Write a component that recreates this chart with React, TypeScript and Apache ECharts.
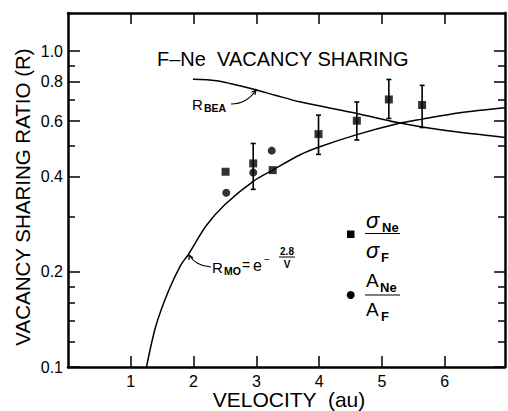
import React, { useEffect, useRef } from "react";
import * as echarts from "echarts";

// ---- data ----
const X_TICKS = [1, 2, 3, 4, 5, 6];
const Y_MAJOR = [0.1, 0.2, 0.4, 0.6, 0.8, 1.0];
const Y_MINOR = [0.12, 0.14, 0.16, 0.18, 0.3, 0.5, 0.7, 0.9];

// sigma_Ne / sigma_F (squares)
const sqV = [2.51, 2.95, 3.26, 3.99, 4.6, 5.11, 5.64];
const sqR = [0.415, 0.441, 0.42, 0.546, 0.602, 0.703, 0.675];
// A_Ne / A_F (circles)
const ciV = [2.52, 2.95, 3.245];
const ciR = [0.356, 0.413, 0.484];
// error bars
const errV = [2.95, 3.99, 4.6, 5.11, 5.64];
const errLo = [0.365, 0.471, 0.523, 0.612, 0.573];
const errHi = [0.51, 0.627, 0.69, 0.813, 0.779];
// R_BEA curve
const beaV = [1.99, 2.36, 2.6, 2.96, 3.3, 3.69, 4.6, 5.23, 5.64, 6.24, 6.96];
const beaR = [0.814, 0.806, 0.788, 0.757, 0.725, 0.691, 0.635, 0.595, 0.575, 0.553, 0.533];
// R_MO curve
const moV = [1.25, 1.4, 1.6, 1.8, 1.91, 2.2, 2.5, 2.95, 3.26, 3.69, 4.0, 4.6, 5.23, 5.64, 6.24, 6.96];
const moR = [0.1, 0.135, 0.174, 0.211, 0.226, 0.28, 0.327, 0.387, 0.42, 0.469, 0.497, 0.544, 0.588, 0.609, 0.638, 0.662];

const FONT = "'Liberation Sans', Arial, sans-serif";
const BLACK = "#000";

function txt(text: string, x: number, y: number, size: number, extra: any = {}) {
  return {
    type: "text",
    x,
    y,
    silent: true,
    style: {
      text,
      fontSize: size,
      fontFamily: FONT,
      fill: BLACK,
      align: "left",
      verticalAlign: "middle",
      ...extra,
    },
  };
}

function arrowHead(x: number, y: number, fromX: number, fromY: number, len = 5) {
  const ang = Math.atan2(y - fromY, x - fromX);
  const a1 = ang + Math.PI - 0.45;
  const a2 = ang + Math.PI + 0.45;
  return {
    type: "polyline",
    silent: true,
    shape: {
      points: [
        [x + len * Math.cos(a1), y + len * Math.sin(a1)],
        [x, y],
        [x + len * Math.cos(a2), y + len * Math.sin(a2)],
      ],
    },
    style: { stroke: BLACK, lineWidth: 1.2, fill: null },
  };
}

export default function App() {
  const ref = useRef<HTMLDivElement>(null);

  useEffect(() => {
    if (!ref.current) return;
    const chart = echarts.init(ref.current, undefined, { renderer: "svg" });

    const yMin = 0.1;
    const yMax = 1.32;
    const xMin = 0;
    const xMax = 6.96;

    const axisLine = { show: true, onZero: false, lineStyle: { color: BLACK, width: 2.5 } };
    const tickStyle = { color: BLACK, width: 1.5 };

    const xAxisBase = {
      type: "value",
      min: xMin,
      max: xMax,
      splitLine: { show: false },
      axisLine,
    };
    const yAxisBase = {
      type: "log",
      logBase: 10,
      min: yMin,
      max: yMax,
      splitLine: { show: false },
      minorTick: { show: false },
      minorSplitLine: { show: false },
    };

    const option: any = {
      animation: false,
      backgroundColor: "#fff",
      textStyle: { fontFamily: FONT, color: BLACK },
      grid: { left: 68, right: 3, top: 13, bottom: 44, containLabel: false },
      xAxis: [
        {
          ...xAxisBase,
          position: "bottom",
          axisTick: { show: true, inside: true, length: 11, customValues: X_TICKS, lineStyle: tickStyle },
          axisLabel: { show: true, customValues: X_TICKS, fontSize: 16, color: BLACK, margin: 6, fontFamily: FONT },
        },
        {
          ...xAxisBase,
          position: "top",
          axisTick: { show: true, inside: true, length: 11, customValues: X_TICKS, lineStyle: tickStyle },
          axisLabel: { show: false },
        },
      ],
      yAxis: [
        {
          ...yAxisBase,
          position: "left",
          axisLine,
          axisTick: { show: true, inside: true, length: 12, customValues: Y_MAJOR, lineStyle: tickStyle },
          axisLabel: {
            show: true,
            customValues: Y_MAJOR,
            fontSize: 16,
            color: BLACK,
            margin: 5,
            fontFamily: FONT,
            formatter: (v: number) => Number(v).toFixed(1),
          },
        },
        {
          ...yAxisBase,
          position: "left",
          axisLine: { show: false, onZero: false },
          axisTick: { show: true, inside: true, length: 7, customValues: Y_MINOR, lineStyle: tickStyle },
          axisLabel: { show: false },
        },
        {
          ...yAxisBase,
          position: "right",
          axisLine,
          axisTick: { show: true, inside: true, length: 11, customValues: Y_MAJOR, lineStyle: tickStyle },
          axisLabel: { show: false },
        },
        {
          ...yAxisBase,
          position: "right",
          axisLine: { show: false, onZero: false },
          axisTick: { show: true, inside: true, length: 7, customValues: Y_MINOR, lineStyle: tickStyle },
          axisLabel: { show: false },
        },
      ],
      series: [
        {
          name: "R_BEA",
          type: "line",
          data: beaV.map((v, i) => [v, beaR[i]]),
          smooth: 0.3,
          symbol: "none",
          lineStyle: { color: BLACK, width: 1.5 },
          silent: true,
        },
        {
          name: "R_MO",
          type: "line",
          data: moV.map((v, i) => [v, moR[i]]),
          smooth: 0.3,
          symbol: "none",
          lineStyle: { color: BLACK, width: 1.5 },
          silent: true,
        },
        {
          name: "error",
          type: "custom",
          data: errV.map((v, i) => [v, errLo[i], errHi[i]]),
          encode: { x: 0, y: [1, 2] },
          renderItem: (params: any, api: any) => {
            const x = api.value(0);
            const lo = api.coord([x, api.value(1)]);
            const hi = api.coord([x, api.value(2)]);
            const w = 2.5;
            const st = { stroke: BLACK, lineWidth: 1.6 };
            return {
              type: "group",
              children: [
                { type: "line", shape: { x1: lo[0], y1: lo[1], x2: hi[0], y2: hi[1] }, style: st },
                { type: "line", shape: { x1: lo[0] - w, y1: lo[1], x2: lo[0] + w, y2: lo[1] }, style: st },
                { type: "line", shape: { x1: hi[0] - w, y1: hi[1], x2: hi[0] + w, y2: hi[1] }, style: st },
              ],
            };
          },
          silent: true,
          z: 3,
        },
        {
          name: "σNe/σF",
          type: "scatter",
          data: sqV.map((v, i) => [v, sqR[i]]),
          symbol: "rect",
          symbolSize: 8,
          itemStyle: { color: BLACK },
          z: 4,
        },
        {
          name: "ANe/AF",
          type: "scatter",
          data: ciV.map((v, i) => [v, ciR[i]]),
          symbol: "circle",
          symbolSize: 8,
          itemStyle: { color: BLACK },
          z: 4,
        },
      ],
      graphic: [
        // title
        txt("F–Ne  VACANCY SHARING", 157, 58.5, 20),
        // axis names
        {
          type: "text",
          x: 22,
          y: 197,
          rotation: Math.PI / 2,
          silent: true,
          style: {
            text: "VACANCY SHARING RATIO (R)",
            fontSize: 20.5,
            fontFamily: FONT,
            fill: BLACK,
            align: "center",
            verticalAlign: "middle",
          },
        },
        txt("VELOCITY  (au)", 289, 399.5, 21, { align: "center" }),
        // R_BEA label + leader
        txt("R", 192, 104, 15),
        txt("BEA", 204, 108, 10.5, { fontWeight: "bold" }),
        {
          type: "bezierCurve",
          silent: true,
          shape: { x1: 231, y1: 104, cpx1: 247, cpy1: 104, x2: 256, y2: 90 },
          style: { stroke: BLACK, lineWidth: 1.2, fill: null },
        },
        arrowHead(256, 90, 249, 99),
        // R_MO label + leader
        txt("R", 212, 267, 15),
        txt("MO", 224, 271, 10.5, { fontWeight: "bold" }),
        txt("=", 242, 265, 14),
        txt("e", 253, 265, 16),
        txt("−", 264, 259, 10),
        txt("2.8", 287, 251, 10, { align: "center", fontWeight: "bold" }),
        {
          type: "line",
          silent: true,
          shape: { x1: 279, y1: 257, x2: 295, y2: 257 },
          style: { stroke: BLACK, lineWidth: 1 },
        },
        txt("V", 287, 264, 10, { align: "center", fontWeight: "bold" }),
        {
          type: "bezierCurve",
          silent: true,
          shape: { x1: 211, y1: 267, cpx1: 196, cpy1: 266, x2: 189, y2: 255 },
          style: { stroke: BLACK, lineWidth: 1.2, fill: null },
        },
        arrowHead(189, 255, 193, 263),
        // legend: squares
        {
          type: "rect",
          silent: true,
          shape: { x: 347, y: 230.5, width: 7.5, height: 7.5 },
          style: { fill: BLACK },
        },
        txt("σ", 366, 220, 22, { fontStyle: "italic" }),
        txt("Ne", 382, 227, 13, { fontWeight: "bold" }),
        {
          type: "line",
          silent: true,
          shape: { x1: 365, y1: 233.5, x2: 400, y2: 233.5 },
          style: { stroke: BLACK, lineWidth: 1.2 },
        },
        txt("σ", 366, 250, 22, { fontStyle: "italic" }),
        txt("F", 381, 257, 13, { fontWeight: "bold" }),
        // legend: circles
        {
          type: "circle",
          silent: true,
          shape: { cx: 350.7, cy: 295, r: 4 },
          style: { fill: BLACK },
        },
        txt("A", 366, 280, 19),
        txt("Ne", 380, 287, 13, { fontWeight: "bold" }),
        {
          type: "line",
          silent: true,
          shape: { x1: 365, y1: 295, x2: 400, y2: 295 },
          style: { stroke: BLACK, lineWidth: 1.2 },
        },
        txt("A", 366, 309.5, 19),
        txt("F", 381, 316, 13, { fontWeight: "bold" }),
      ],
    };

    chart.setOption(option);
    return () => chart.dispose();
  }, []);

  return (
    <div
      ref={ref}
      style={{ position: "fixed", left: 0, top: 0, width: 508, height: 411, background: "#fff" }}
    />
  );
}
